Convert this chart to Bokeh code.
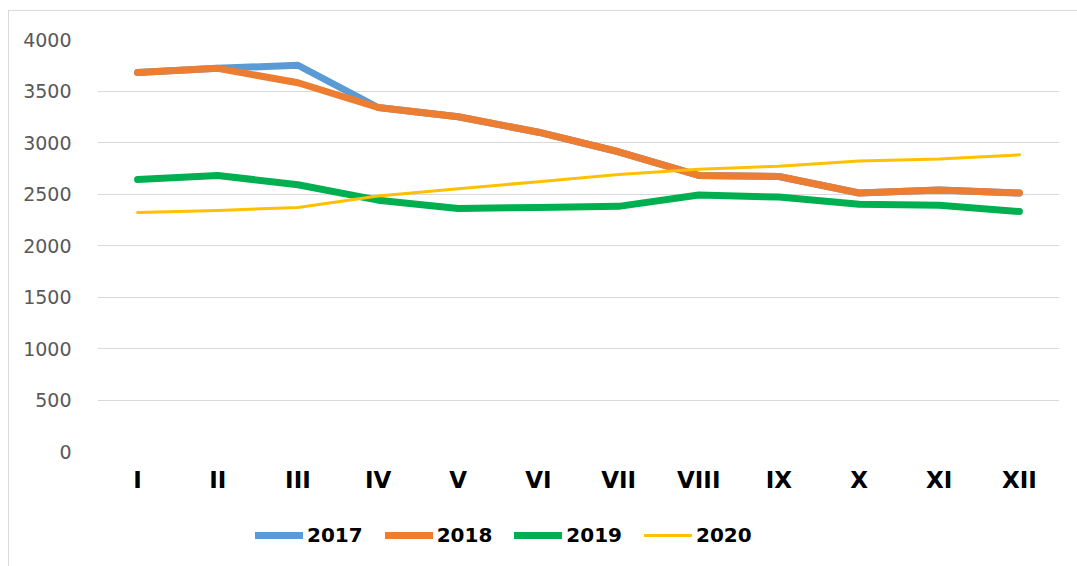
from bokeh.plotting import figure
from bokeh.layouts import column
from bokeh.models import Range1d, FactorRange, FixedTicker, Legend, LegendItem
from bokeh.embed import file_html
from bokeh.resources import INLINE

months = ["I", "II", "III", "IV", "V", "VI", "VII", "VIII", "IX", "X", "XI", "XII"]
y2017 = [3680, 3720, 3750, 3340, 3250, 3100, 2910, 2680, 2670, 2510, 2540, 2510]
y2018 = [3680, 3720, 3580, 3340, 3250, 3100, 2910, 2680, 2670, 2510, 2540, 2510]
y2019 = [2640, 2680, 2590, 2440, 2360, 2370, 2380, 2490, 2470, 2400, 2390, 2330]
y2020 = [2320, 2340, 2370, 2480, 2550, 2620, 2690, 2740, 2770, 2820, 2840, 2880]
series_names = ["2017", "2018", "2019", "2020"]
y_ticks = [0, 500, 1000, 1500, 2000, 2500, 3000, 3500, 4000]

colors = ["#5B9BD5", "#ED7D31", "#00B050", "#FFC000"]
widths = [7, 7, 7, 3]

p = figure(width=1068, height=500, x_range=FactorRange(*months, range_padding=0),
           y_range=Range1d(0, 4000), output_backend="svg", toolbar_location=None,
           min_border_left=88, min_border_right=18, min_border_top=28, min_border_bottom=60)
p.outline_line_color = None
p.background_fill_color = "white"
p.border_fill_color = "white"

p.xgrid.grid_line_color = None
p.ygrid.grid_line_color = "#d9d9d9"
p.ygrid.grid_line_width = 1
p.yaxis.ticker = FixedTicker(ticks=y_ticks)

for ax in (p.xaxis[0], p.yaxis[0]):
    ax.axis_line_color = None
    ax.major_tick_line_color = None
    ax.minor_tick_line_color = None

p.yaxis.major_label_text_font = "DejaVu Sans"
p.yaxis.major_label_text_font_size = "19px"
p.yaxis.major_label_text_color = "#595959"
p.yaxis.major_label_standoff = 20

p.xaxis.major_label_text_font = "DejaVu Sans"
p.xaxis.major_label_text_font_style = "bold"
p.xaxis.major_label_text_font_size = "23px"
p.xaxis.major_label_text_color = "#000000"
p.xaxis.major_label_standoff = 9

for ys, c, w in zip([y2017, y2018, y2019, y2020], colors, widths):
    p.line(months, ys, line_color=c, line_width=w, line_cap="round", line_join="round")

# legend strip below the chart (its frame is aligned with the chart's frame)
lg = figure(width=1068, height=55, x_range=Range1d(0, 1), y_range=Range1d(0, 1),
            output_backend="svg", toolbar_location=None,
            min_border_left=88, min_border_right=18, min_border_top=0, min_border_bottom=0)
lg.axis.visible = False
lg.grid.visible = False
lg.outline_line_color = None
lg.border_fill_color = "white"

items = []
for name, c, w in zip(series_names, colors, widths):
    r = lg.line(x=[float("nan")], y=[float("nan")], line_color=c, line_width=w, line_cap="round")
    items.append(LegendItem(label=name, renderers=[r]))

legend = Legend(items=items, orientation="horizontal", location=(158, 19),
                label_text_font="DejaVu Sans", label_text_font_style="bold",
                label_text_font_size="20px", label_text_color="#000000",
                glyph_width=48, glyph_height=24, label_height=24, label_standoff=4, spacing=22,
                padding=0, margin=0, border_line_color=None, background_fill_alpha=0)
lg.add_layout(legend, "center")

layout = column(p, lg, spacing=0)
layout.styles = {"border-left": "1px solid #d9d9d9", "border-top": "1px solid #d9d9d9",
                 "margin-top": "10px", "margin-left": "8px"}

open("out.html", "w").write(file_html(layout, INLINE))
